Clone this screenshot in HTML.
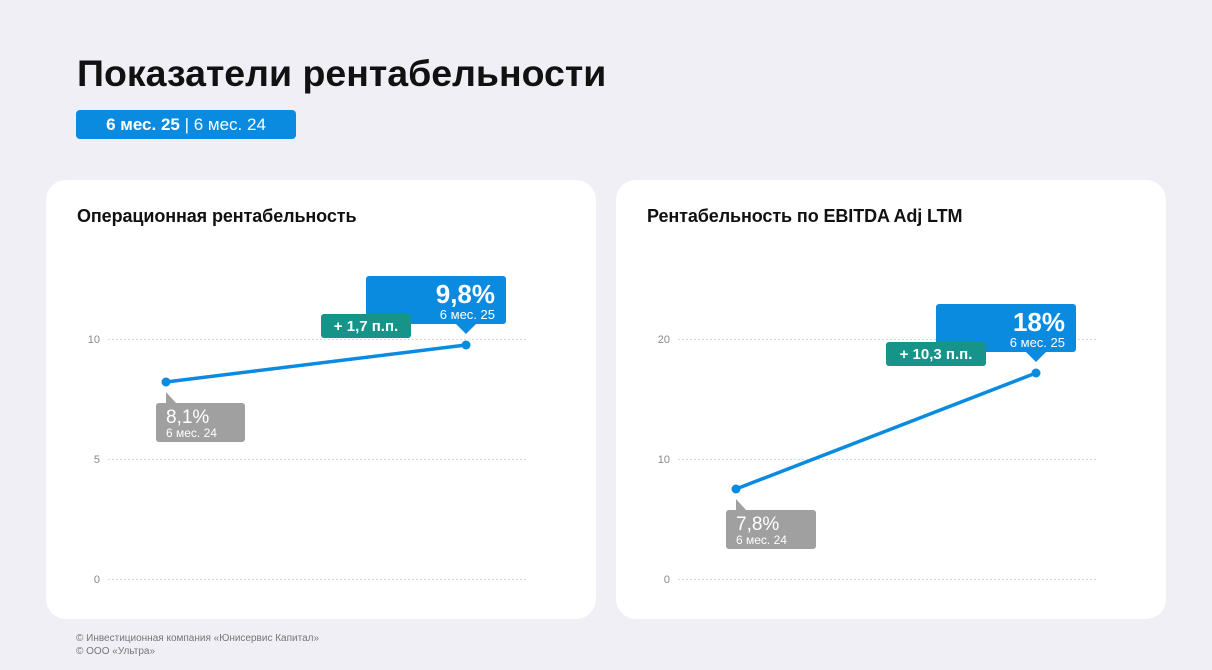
<!DOCTYPE html>
<html><head><meta charset="utf-8"><style>
body{margin:0;width:1212px;height:670px;background:#efeff5;font-family:"Liberation Sans","DejaVu Sans",sans-serif;position:relative;overflow:hidden}
.a{position:absolute}
.card{position:absolute;top:180px;width:550px;height:439px;background:#fff;border-radius:20px}
.ct{position:absolute;top:206px;font-size:18px;font-weight:bold;color:#111;letter-spacing:-0.1px}
</style></head><body>
<div class="a" style="left:77px;top:52px;font-size:37.5px;font-weight:bold;color:#111">Показатели рентабельности</div>
<div class="a" style="left:76px;top:110px;width:220px;height:29px;background:#0a8be0;border-radius:4px;color:#fff;font-size:17px;line-height:29px;text-align:center"><b>6 мес. 25</b> | 6 мес. 24</div>
<div class="card" style="left:46px"></div>
<div class="card" style="left:616px"></div>
<div class="ct" style="left:77px">Операционная рентабельность</div>
<div class="ct" style="left:647px">Рентабельность по EBITDA Adj LTM</div>
<svg class="a" style="left:0;top:0" width="1212" height="670" font-family="Liberation Sans, sans-serif">
<g stroke="#d8d8dc" stroke-dasharray="2,2" stroke-width="1">
<line x1="108" y1="339.5" x2="527" y2="339.5"/><line x1="108" y1="459.5" x2="527" y2="459.5"/><line x1="108" y1="579.5" x2="527" y2="579.5"/>
<line x1="678" y1="339.5" x2="1097" y2="339.5"/><line x1="678" y1="459.5" x2="1097" y2="459.5"/><line x1="678" y1="579.5" x2="1097" y2="579.5"/>
</g>
<g fill="#888" font-size="11" text-anchor="end">
<text x="100" y="343">10</text><text x="100" y="463">5</text><text x="100" y="583">0</text>
<text x="670" y="343">20</text><text x="670" y="463">10</text><text x="670" y="583">0</text>
</g>
<line x1="166" y1="382" x2="466" y2="345" stroke="#0a8be0" stroke-width="3.5"/>
<circle cx="166" cy="382" r="4.5" fill="#0a8be0"/><circle cx="466" cy="345" r="4.5" fill="#0a8be0"/>
<line x1="736" y1="489" x2="1036" y2="373" stroke="#0a8be0" stroke-width="3.5"/>
<circle cx="736" cy="489" r="4.5" fill="#0a8be0"/><circle cx="1036" cy="373" r="4.5" fill="#0a8be0"/>
<rect x="366" y="276" width="140" height="48" rx="3" fill="#0a8be0"/><polygon points="456,324 476,324 466,334" fill="#0a8be0"/>
<text x="495" y="303" fill="#fff" font-size="26" font-weight="bold" text-anchor="end">9,8%</text>
<text x="495" y="319" fill="#fff" font-size="13" text-anchor="end">6 мес. 25</text>
<rect x="321" y="314" width="90" height="24" rx="3" fill="#16948a"/>
<text x="366" y="331" fill="#fff" font-size="15" font-weight="bold" text-anchor="middle">+ 1,7 п.п.</text>
<rect x="156" y="403" width="89" height="39" rx="3" fill="#a0a0a0"/><polygon points="166,392 166,403 176,403" fill="#a0a0a0"/>
<text x="166" y="423" fill="#fff" font-size="19">8,1%</text>
<text x="166" y="437" fill="#fff" font-size="12">6 мес. 24</text>
<rect x="936" y="304" width="140" height="48" rx="3" fill="#0a8be0"/><polygon points="1026,352 1046,352 1036,362" fill="#0a8be0"/>
<text x="1065" y="331" fill="#fff" font-size="26" font-weight="bold" text-anchor="end">18%</text>
<text x="1065" y="347" fill="#fff" font-size="13" text-anchor="end">6 мес. 25</text>
<rect x="886" y="342" width="100" height="24" rx="3" fill="#16948a"/>
<text x="936" y="359" fill="#fff" font-size="15" font-weight="bold" text-anchor="middle">+ 10,3 п.п.</text>
<rect x="726" y="510" width="90" height="39" rx="3" fill="#a0a0a0"/><polygon points="736,499 736,510 746,510" fill="#a0a0a0"/>
<text x="736" y="530" fill="#fff" font-size="19">7,8%</text>
<text x="736" y="544" fill="#fff" font-size="12">6 мес. 24</text>
</svg>
<div class="a" style="left:76px;top:632px;font-size:10px;line-height:13px;color:#777">© Инвестиционная компания «Юнисервис Капитал»<br>© ООО «Ультра»</div>
</body></html>
